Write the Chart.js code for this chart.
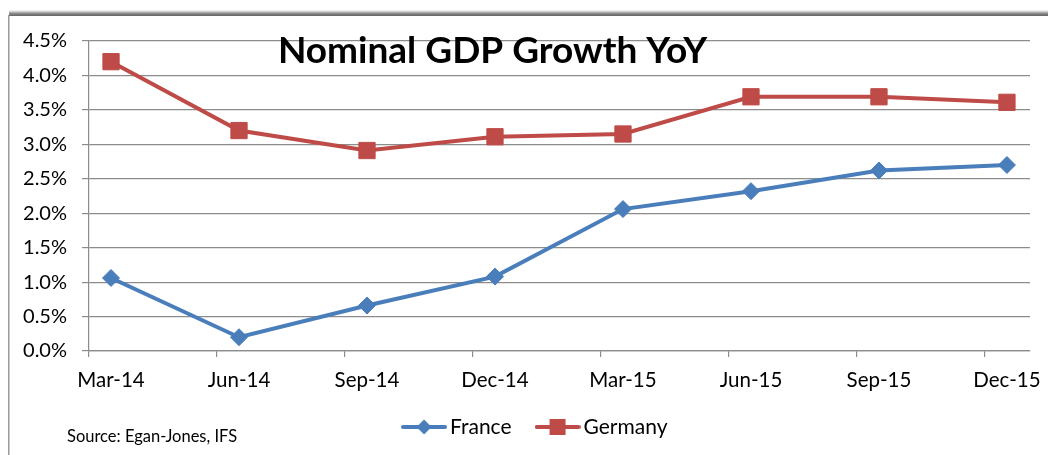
<!DOCTYPE html>
<html><head><meta charset="utf-8">
<script src="https://cdn.jsdelivr.net/npm/chart.js@4/dist/chart.umd.min.js"></script>
<style>
html,body{margin:0;padding:0;background:#fff;overflow:hidden;}
#wrap{position:relative;width:1048px;height:455px;}
canvas{display:block}
</style></head><body>
<div id="wrap"><canvas id="c" width="1048" height="455"></canvas></div>
<script>
// ---- data ----
const categories = ['Mar-14','Jun-14','Sep-14','Dec-14','Mar-15','Jun-15','Sep-15','Dec-15'];
const france  = [1.06, 0.20, 0.66, 1.08, 2.06, 2.32, 2.62, 2.70];
const germany = [4.20, 3.20, 2.91, 3.11, 3.15, 3.69, 3.69, 3.61];
const yTickLabels = ['0.0%','0.5%','1.0%','1.5%','2.0%','2.5%','3.0%','3.5%','4.0%','4.5%'];
const seriesNames = ['France','Germany'];
const titleText = 'Nominal GDP Growth YoY';
const sourceText = 'Source: Egan-Jones, IFS';

// ---- styling ----
const FONT = "Lato, 'Open Sans', sans-serif";
const BLUE = '#4a7ebb', RED = '#be4b48', GRID = '#8c8c8c';
const X_OFF = 0.172; // marker offset from month tick (date axis look)

function legendImage(color, style) {
  const cv = document.createElement('canvas');
  cv.width = 46; cv.height = 18;
  const g = cv.getContext('2d');
  g.strokeStyle = color; g.lineWidth = 4; g.lineCap = 'round';
  g.beginPath(); g.moveTo(2, 9); g.lineTo(44, 9); g.stroke();
  g.fillStyle = color;
  if (style === 'diamond') {
    g.beginPath(); g.moveTo(23, 1.5); g.lineTo(30.5, 9); g.lineTo(23, 16.5); g.lineTo(15.5, 9); g.closePath(); g.fill();
  } else {
    g.fillRect(15, 1, 16, 16);
  }
  return cv;
}
const legendImgs = [legendImage(BLUE, 'diamond'), legendImage(RED, 'square')];

const decorPlugin = {
  id: 'decor',
  afterLayout(chart) {
    // place legend like the reference (slightly right of center, just under the axis labels)
    if (chart.legend) { chart.legend.left = 46; chart.legend.top -= 7; }
  },
  beforeDraw(chart) {
    const ctx = chart.ctx;
    ctx.save();
    const grd = ctx.createLinearGradient(0, 10, 0, 17);
    grd.addColorStop(0, 'rgba(120,120,120,0)');
    grd.addColorStop(0.5, 'rgba(110,110,110,0.8)');
    grd.addColorStop(1, 'rgba(80,80,80,1)');
    ctx.fillStyle = grd;
    ctx.fillRect(9, 10, 1039, 6);
    ctx.fillStyle = '#9a9a9a';
    ctx.fillRect(8, 15, 1.5, 440);
    ctx.restore();
  },
  afterDraw(chart) {
    const ctx = chart.ctx;
    ctx.save();
    ctx.fillStyle = '#000';
    ctx.font = "bold 37px " + FONT;
    ctx.textAlign = 'center';
    ctx.textBaseline = 'alphabetic';
    ctx.fillText(titleText, 492.5, 63);
    ctx.font = "16.5px " + FONT;
    ctx.textAlign = 'left';
    ctx.fillText(sourceText, 67, 442);
    ctx.restore();
  }
};

const ctx = document.getElementById('c').getContext('2d');
new Chart(ctx, {
  type: 'line',
  data: {
    datasets: [
      { label: seriesNames[0], data: france.map((v, i) => ({x: i, y: v})),
        borderColor: BLUE, backgroundColor: BLUE, borderWidth: 4,
        pointStyle: 'rectRot', pointRadius: 8.5, pointHoverRadius: 8.5, pointBorderWidth: 1,
        pointBorderColor: BLUE, pointBackgroundColor: BLUE, tension: 0, fill: false },
      { label: seriesNames[1], data: germany.map((v, i) => ({x: i, y: v})),
        borderColor: RED, backgroundColor: RED, borderWidth: 4,
        pointStyle: 'rect', pointRadius: 11.5, pointHoverRadius: 11.5, pointBorderWidth: 1,
        pointBorderColor: RED, pointBackgroundColor: RED, tension: 0, fill: false }
    ]
  },
  options: {
    responsive: false,
    devicePixelRatio: 1,
    animation: false,
    layout: { padding: { left: 0, right: 18, top: 41, bottom: 0.5 } },
    plugins: {
      title: { display: false },
      tooltip: { enabled: false },
      legend: {
        display: true, position: 'bottom', align: 'center',
        labels: {
          usePointStyle: true, pointStyleWidth: 31, padding: 30.5,
          color: '#000', font: { family: FONT, size: 21 },
          generateLabels(chart) {
            return chart.data.datasets.map((ds, i) => ({
              text: ds.label, fillStyle: ds.borderColor, strokeStyle: ds.borderColor,
              lineWidth: 0, pointStyle: legendImgs[i], datasetIndex: i, hidden: false
            }));
          }
        }
      }
    },
    scales: {
      x: {
        type: 'linear', position: 'bottom',
        min: -X_OFF, max: 7.18,
        afterBuildTicks(scale) { scale.ticks = categories.map((c, i) => ({ value: i - X_OFF })); },
        afterFit(scale) { scale.height = 42; },
        ticks: {
          autoSkip: false, maxRotation: 0, padding: 11, labelOffset: 22, color: '#000',
          font: { family: FONT, size: 20.5 },
          callback: (v, i) => categories[i]
        },
        grid: { drawOnChartArea: false, drawTicks: true, tickLength: 6, color: GRID, lineWidth: 1.2 },
        border: { display: true, color: GRID, width: 1.2 }
      },
      y: {
        type: 'linear', min: 0, max: 4.5,
        afterBuildTicks(scale) { scale.ticks = yTickLabels.map((t, i) => ({ value: i * 0.5 })); },
        afterFit(scale) { scale.width = 89; },
        ticks: {
          padding: 15, color: '#000', font: { family: FONT, size: 20 },
          callback: (v, i) => yTickLabels[i]
        },
        grid: { color: GRID, lineWidth: 1.2, tickLength: 7, drawTicks: true },
        border: { display: true, color: GRID, width: 1.2 }
      }
    }
  },
  plugins: [decorPlugin]
});
</script>
</body></html>
